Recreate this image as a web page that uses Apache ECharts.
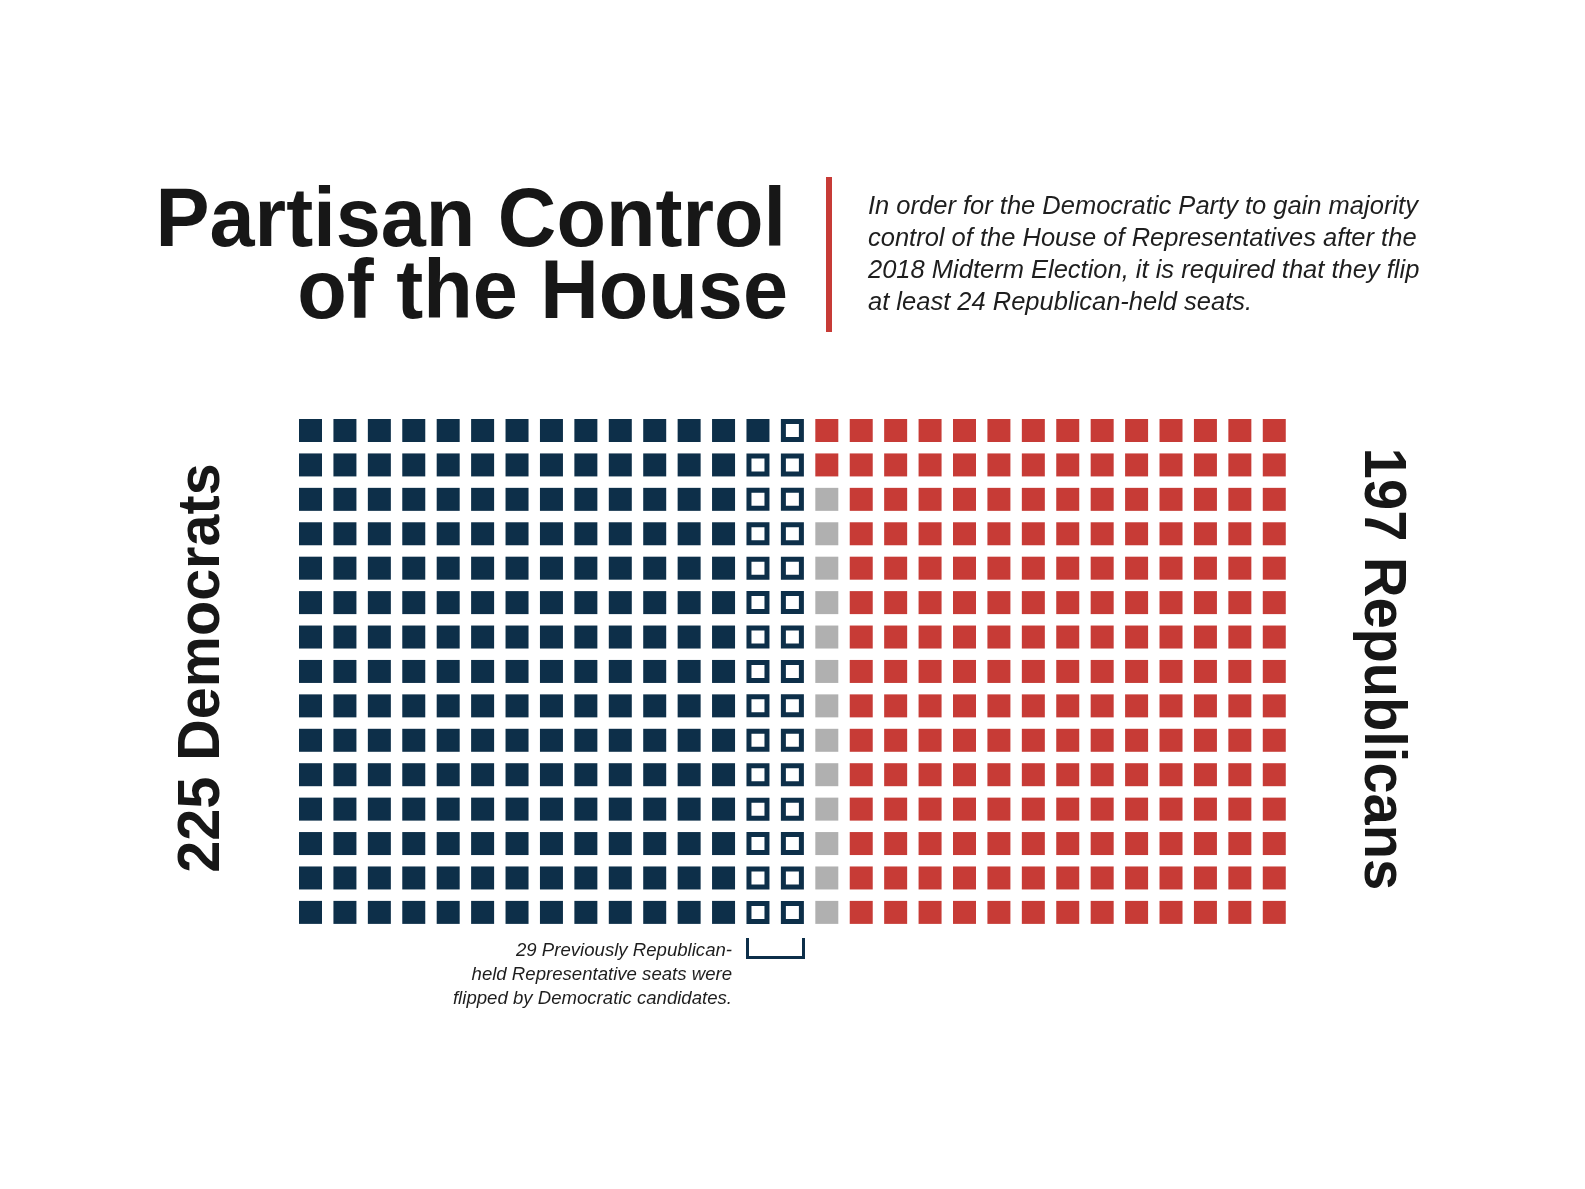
<!DOCTYPE html>
<html>
<head>
<meta charset="utf-8">
<script src="https://cdn.jsdelivr.net/npm/echarts/dist/echarts.min.js"></script>
<style>
  html, body { margin: 0; padding: 0; background: #ffffff; }
  #chart { width: 1585px; height: 1189px; }
</style>
</head>
<body>
<div id="chart"></div>
<script>
// ---- Data ----
const titleLines = ['Partisan Control', 'of the House'];
const subtitleLines = [
  'In order for the Democratic Party to gain majority',
  'control of the House of Representatives after the',
  '2018 Midterm Election, it is required that they flip',
  'at least 24 Republican-held seats.'
];
const noteLines = [
  '29 Previously Republican-',
  'held Representative seats were',
  'flipped by Democratic candidates.'
];
const partyNames = ['Democrats', 'Republicans'];
const demHeldSeats = 196;     // held Democratic seats (filled navy)
const demFlippedSeats = 29;   // flipped from Republican (outlined navy)
const repSeats = 197;         // Republican seats (red)
const vacantSeats = 13;       // undecided / vacant (gray)
const gridRows = 15;
const gridCols = 29;

// ---- Layout of the waffle (column-major, top to bottom) ----
function cellFromLeft(i) { return [Math.floor(i / gridRows), i % gridRows]; }
function cellFromRight(i) { return [gridCols - 1 - Math.floor(i / gridRows), i % gridRows]; }

const demHeldData = [], demFlipData = [], repData = [], vacantData = [];
let k = 0;
for (let i = 0; i < demHeldSeats; i++) demHeldData.push(cellFromLeft(k++));
for (let i = 0; i < demFlippedSeats; i++) demFlipData.push(cellFromLeft(k++));
for (let i = 0; i < repSeats; i++) repData.push(cellFromRight(i));
// vacant seats fill the remaining cells of the boundary column, from the bottom
const repLastCol = cellFromRight(repSeats - 1);
for (let i = 0; i < vacantSeats; i++) vacantData.push([repLastCol[0], gridRows - 1 - i]);

const demTotal = demHeldSeats + demFlippedSeats;

const NAVY = '#0d2f49';
const RED = '#c73b36';
const GRAY = '#b0b0b0';
const INK = '#171717';
const FONT = '"Liberation Sans", Arial, Helvetica, sans-serif';

const chart = echarts.init(document.getElementById('chart'), null, { renderer: 'canvas' });

const cellPitch = 34.42;
const gridLeft = 293.3, gridTop = 413.3;

function sq(name, data, color) {
  return {
    name, type: 'scatter', data, symbol: 'rect', symbolSize: 23,
    itemStyle: { color, opacity: 1 }, silent: true, emphasis: { disabled: true }
  };
}

const graphics = [
  // Title
  { type: 'text', x: 786, y: 223, scaleX: 0.965, style: {
      text: titleLines[0], fontFamily: FONT, fontWeight: 'bold', fontSize: 84,
      fill: INK, textAlign: 'right', textVerticalAlign: 'middle' } },
  { type: 'text', x: 788, y: 295, scaleX: 0.965, style: {
      text: titleLines[1], fontFamily: FONT, fontWeight: 'bold', fontSize: 84,
      fill: INK, textAlign: 'right', textVerticalAlign: 'middle' } },
  // Red divider
  { type: 'rect', shape: { x: 826, y: 177, width: 6, height: 155 }, style: { fill: RED } },
  // Side labels
  { type: 'text', x: 203, y: 668, rotation: Math.PI / 2, scaleX: 0.975, style: {
      text: demTotal + ' ' + partyNames[0], fontFamily: FONT, fontWeight: 'bold', fontSize: 59,
      fill: INK, textAlign: 'center', textVerticalAlign: 'middle' } },
  { type: 'text', x: 1381, y: 669, rotation: -Math.PI / 2, scaleX: 0.95, style: {
      text: repSeats + ' ' + partyNames[1], fontFamily: FONT, fontWeight: 'bold', fontSize: 59,
      fill: INK, textAlign: 'center', textVerticalAlign: 'middle' } },
  // Bracket under flipped seats
  { type: 'polyline', shape: { points: [[747.5, 938], [747.5, 957.5], [803.5, 957.5], [803.5, 938]] },
    style: { stroke: NAVY, lineWidth: 3, fill: null } }
];

subtitleLines.forEach((t, i) => {
  graphics.push({ type: 'text', x: 868, y: 207 + i * 32, style: {
    text: t, fontFamily: FONT, fontStyle: 'italic', fontSize: 25.5, fill: '#1e1e1e',
    textAlign: 'left', textVerticalAlign: 'middle' } });
});
noteLines.forEach((t, i) => {
  graphics.push({ type: 'text', x: 732, y: 951 + i * 24, style: {
    text: t, fontFamily: FONT, fontStyle: 'italic', fontSize: 18.6, fill: '#1e1e1e',
    textAlign: 'right', textVerticalAlign: 'middle' } });
});

chart.setOption({
  animation: false,
  backgroundColor: '#ffffff',
  grid: { left: gridLeft, top: gridTop, width: cellPitch * gridCols, height: cellPitch * gridRows },
  xAxis: { type: 'value', min: -0.5, max: gridCols - 0.5, show: false },
  yAxis: { type: 'value', min: -0.5, max: gridRows - 0.5, inverse: true, show: false },
  series: [
    sq('Democrats', demHeldData, NAVY),
    {
      name: 'Flipped', type: 'scatter', data: demFlipData, symbol: 'rect', symbolSize: 18,
      itemStyle: { color: '#ffffff', borderColor: NAVY, borderWidth: 5, opacity: 1 },
      silent: true, emphasis: { disabled: true }
    },
    sq('Vacant', vacantData, GRAY),
    sq('Republicans', repData, RED)
  ],
  graphic: graphics
});
</script>
</body>
</html>
